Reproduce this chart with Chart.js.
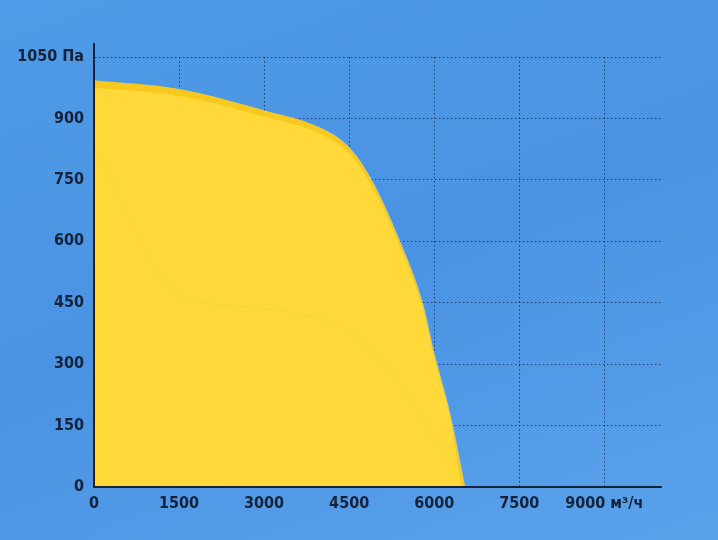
<!DOCTYPE html><html><head><meta charset="utf-8">
<script src="https://cdn.jsdelivr.net/npm/chart.js@4"></script>
<style>html,body{margin:0;padding:0;}body{width:718px;height:540px;background:linear-gradient(160deg,#4f9be6 0%,#4a93e3 50%,#5aa2ea 100%);}canvas{display:block}</style>
</head><body><canvas id="c" width="718" height="540"></canvas>
<script>
const flowOuter = [0,1500,3000,4000,4500,4900,5400,5800,6000,6300,6550];
const pressOuter = [993,972,920,877,830,750,600,450,330,170,0];
const flowInner = [0,1500,3000,4000,4500,4900,5400,5800,6000,6300,6480];
const pressInner = [975,955,905,862,815,735,585,435,315,155,0];
const flowFaint = [0,1500,2700,4500,5000,6300];
const pressFaint = [830,470,440,380,320,60];
const xTicks = [0,1500,3000,4500,6000,7500,9000];
const yTicks = [0,150,300,450,600,750,900,1050];
const pts=(xs,ys)=>xs.map((x,i)=>({x,y:ys[i]}));
new Chart(document.getElementById('c'),{
type:'line',
data:{datasets:[
{data:pts(flowFaint,pressFaint),borderColor:'rgba(230,190,40,0.2)',borderWidth:1,pointRadius:0,fill:false,cubicInterpolationMode:'monotone'},
{data:pts(flowInner,pressInner),borderColor:'#ffd83a',backgroundColor:'#ffd83a',borderWidth:0,pointRadius:0,fill:'origin',cubicInterpolationMode:'monotone'},
{data:pts(flowOuter,pressOuter),borderColor:'#f7c81e',backgroundColor:'#f7c81e',borderWidth:0,pointRadius:0,fill:'origin',cubicInterpolationMode:'monotone'}
]},
options:{responsive:false,animation:false,
layout:{padding:{left:0,top:57,right:57,bottom:0}},
plugins:{legend:{display:false},tooltip:{enabled:false}},
scales:{
x:{type:'linear',min:0,max:10000,
afterBuildTicks:a=>{a.ticks=xTicks.map(v=>({value:v}));},
afterFit:a=>{a.height=53;},
ticks:{color:'#14223a',font:{family:'DejaVu Sans Condensed',weight:'bold',size:16},padding:7,maxRotation:0,
callback:v=>v===9000?'9000 м³/ч':String(v)},
grid:{color:'rgba(30,40,60,0.8)',drawTicks:false},
border:{color:'#14223a',width:2,dash:[1.5,2.5]}},
y:{min:0,max:1050,
afterBuildTicks:a=>{a.ticks=yTicks.map(v=>({value:v}));},
afterFit:a=>{a.width=94;},
ticks:{color:'#14223a',font:{family:'DejaVu Sans Condensed',weight:'bold',size:16},padding:10,
callback:v=>v===1050?'1050 Па':String(v)},
grid:{color:'rgba(30,40,60,0.8)',drawTicks:false},
border:{color:'#14223a',width:2,dash:[1.5,2.5]}}
}},
plugins:[{id:'z',afterDraw(c){const{ctx,chartArea:a}=c;ctx.save();ctx.strokeStyle='#14223a';ctx.lineWidth=2;ctx.beginPath();ctx.moveTo(a.left,a.top-14);ctx.lineTo(a.left,a.bottom);ctx.lineTo(a.right,a.bottom);ctx.stroke();ctx.restore();}}]
});
</script></body></html>
